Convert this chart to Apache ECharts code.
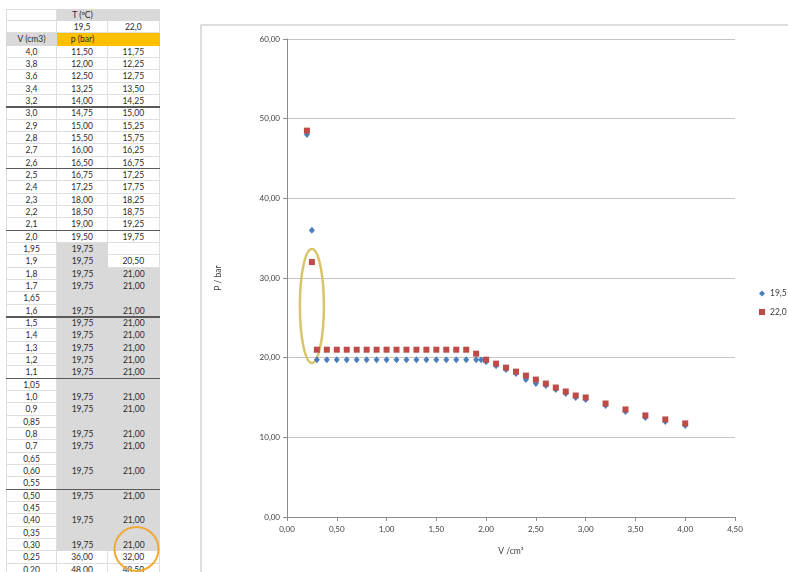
<!DOCTYPE html>
<html>
<head>
<meta charset="utf-8">
<script src="https://cdn.jsdelivr.net/npm/echarts@6/dist/echarts.min.js"></script>
<style>
html,body{margin:0;padding:0;background:#fff;}
#tbl{position:absolute;left:0;top:0;width:175px;height:572px;overflow:hidden;z-index:1;font-family:Lato,'DejaVu Sans',sans-serif;font-size:8.5px;color:#2b2b2b;}
#chart{position:absolute;left:0;top:0;width:788px;height:572px;z-index:2;}
.c{position:absolute;box-sizing:border-box;text-align:center;white-space:nowrap;}
</style>
</head>
<body>
<div id="tbl"></div>
<div id="chart"></div>
<script>
// ---- data ----
const tempHeaders = ['19,5', '22,0'];
const vLabels = ['4,0','3,8','3,6','3,4','3,2','3,0','2,9','2,8','2,7','2,6','2,5','2,4','2,3','2,2','2,1','2,0','1,95','1,9','1,8','1,7','1,65','1,6','1,5','1,4','1,3','1,2','1,1','1,05','1,0','0,9','0,85','0,8','0,7','0,65','0,60','0,55','0,50','0,45','0,40','0,35','0,30','0,25','0,20'];
const p195 = [11.5,12,12.5,13.25,14,14.75,15,15.5,16,16.5,16.75,17.25,18,18.5,19,19.5,
  19.75,19.75,19.75,19.75,null,19.75,19.75,19.75,19.75,19.75,19.75,null,19.75,19.75,null,19.75,19.75,null,19.75,null,19.75,null,19.75,null,19.75,36,48];
const p220 = [11.75,12.25,12.75,13.5,14.25,15,15.25,15.75,16.25,16.75,17.25,17.75,18.25,18.75,19.25,19.75,
  null,20.5,21,21,null,21,21,21,21,21,21,null,21,21,null,21,21,null,21,null,21,null,21,null,21,32,48.5];
const xTicks = {min:0, max:4.5, interval:0.5};
const yTicks = {min:0, max:60, interval:10};

const vNum = vLabels.map(s => parseFloat(s.replace(',', '.')));
const fmt2 = v => v.toFixed(2).replace('.', ',');

// ---- table (spreadsheet) ----
const T0 = 8.5, RH = 12.34;
const X = [6, 57, 108, 159.5];
const GRAY = '#d9d9d9', GOLD = '#ffc000', LINE = '#dedede';
const grayB = [16, 40], grayC = [18, 40];   // shaded data-row ranges
const heavyAfter = [4, 9, 14, 21, 26, 35];
const tbl = document.getElementById('tbl');
function cell(r, c, text, bg, span) {
  const d = document.createElement('div');
  d.className = 'c';
  const left = X[c], right = X[c + (span || 1)];
  d.style.left = left + 'px';
  d.style.width = (right - left) + 'px';
  d.style.top = (T0 + r * RH) + 'px';
  d.style.height = RH + 'px';
  d.style.lineHeight = RH + 'px';
  if (bg) { d.style.background = bg; }
  else {
    d.style.borderRight = '1px solid ' + LINE;
    d.style.borderBottom = '1px solid ' + LINE;
    if (c === 0) d.style.borderLeft = '1px solid ' + LINE;
    if (r === 0) d.style.borderTop = '1px solid ' + LINE;
  }
  if (text !== null && text !== undefined) {
    const s = document.createElement('span');
    s.textContent = text;
    d.appendChild(s);
  }
  tbl.appendChild(d);
  return d;
}
// header rows
cell(0, 0, '', null);
const th = cell(0, 1, '', GRAY, 2);
const ts = document.createElement('span'); ts.textContent = 'T (ºC)';
ts.style.position = 'absolute'; ts.style.left = '0'; ts.style.width = (X[2]-X[1]) + 'px'; ts.style.textAlign = 'center';
th.appendChild(ts);
cell(1, 0, '', null);
cell(1, 1, tempHeaders[0], null);
cell(1, 2, tempHeaders[1], null);
cell(2, 0, 'V (cm3)', GRAY);
const ph = cell(2, 1, '', GOLD, 2);
const ps = document.createElement('span'); ps.textContent = 'p (bar)';
ps.style.position = 'absolute'; ps.style.left = '0'; ps.style.width = (X[2]-X[1]) + 'px'; ps.style.textAlign = 'center';
ph.appendChild(ps);
// data rows
vLabels.forEach((lab, i) => {
  const r = i + 3;
  cell(r, 0, lab, null);
  const gB = i >= grayB[0] && i <= grayB[1];
  const gC = i >= grayC[0] && i <= grayC[1];
  cell(r, 1, p195[i] == null ? '' : fmt2(p195[i]), gB ? GRAY : null);
  cell(r, 2, p220[i] == null ? '' : fmt2(p220[i]), gC ? GRAY : null);
});
heavyAfter.forEach(i => {
  const d = document.createElement('div');
  d.style.position = 'absolute';
  d.style.left = X[0] + 'px';
  d.style.width = (X[3] - X[0]) + 'px';
  d.style.top = (T0 + (i + 4) * RH - 1) + 'px';
  d.style.height = '1.5px';
  d.style.background = '#5a5a5a';
  tbl.appendChild(d);
});

// ---- chart ----
const chart = echarts.init(document.getElementById('chart'), null, {renderer: 'canvas'});
const s195 = vNum.map((v, i) => [v, p195[i]]).filter(d => d[1] != null);
const s220 = vNum.map((v, i) => [v, p220[i]]).filter(d => d[1] != null);
const axisCol = '#8c8c8c', txtCol = '#404040';
chart.setOption({
  animation: false,
  textStyle: {fontFamily: 'Lato'},
  grid: {left: 287, top: 39, width: 448, height: 478},
  xAxis: {
    type: 'value', min: xTicks.min, max: xTicks.max, interval: xTicks.interval,
    axisLine: {show: true, onZero: false, lineStyle: {color: axisCol, width: 1}},
    axisTick: {show: true, length: 4, lineStyle: {color: axisCol}},
    splitLine: {show: false},
    axisLabel: {formatter: v => fmt2(v), fontSize: 8, color: txtCol, margin: 8},
    name: 'V /cm³', nameLocation: 'middle', nameGap: 30,
    nameTextStyle: {fontSize: 8.5, color: txtCol}
  },
  yAxis: {
    type: 'value', min: yTicks.min, max: yTicks.max, interval: yTicks.interval,
    axisLine: {show: true, lineStyle: {color: axisCol, width: 1}},
    axisTick: {show: true, length: 4, lineStyle: {color: axisCol}},
    splitLine: {show: true, lineStyle: {color: '#c4c4c4', width: 1.2}},
    axisLabel: {formatter: v => fmt2(v), fontSize: 8, color: txtCol, margin: 7},
    name: 'P / bar', nameLocation: 'middle', nameGap: 64, nameRotate: 90,
    nameTextStyle: {fontSize: 8.5, color: txtCol}
  },
  legend: {
    orient: 'vertical', left: 759, top: 289, padding: 0,
    itemWidth: 6, itemHeight: 6, itemGap: 9.5, itemTextGap: 2,
    textStyle: {fontSize: 8.5, color: txtCol},
    data: [{name: tempHeaders[0], icon: 'diamond'}, {name: tempHeaders[1], icon: 'rect'}]
  },
  series: [
    {name: tempHeaders[0], type: 'scatter', symbol: 'diamond', symbolSize: [6, 7],
     itemStyle: {color: '#4a7ebb', opacity: 1}, data: s195},
    {name: tempHeaders[1], type: 'scatter', symbol: 'rect', symbolSize: 6,
     itemStyle: {color: '#be4b48', opacity: 1}, data: s220}
  ]
});
const ec = chart.convertToPixel('grid', [0.25, 26.5]);
chart.setOption({
  graphic: [
    {type: 'rect', silent: true, z: -1,
     shape: {x: 201, y: 25, width: 700, height: 700},
     style: {fill: 'none', stroke: '#d2d2d2', lineWidth: 1.5}},
    {type: 'ellipse', silent: true,
     shape: {cx: ec[0], cy: ec[1], rx: 12, ry: 57},
     style: {fill: 'none', stroke: '#d8c46a', lineWidth: 2.5}},
    {type: 'circle', silent: true,
     shape: {cx: 136.5, cy: 549, r: 22},
     style: {fill: 'none', stroke: '#f1aa3a', lineWidth: 2}}
  ]
});
</script>
</body>
</html>
